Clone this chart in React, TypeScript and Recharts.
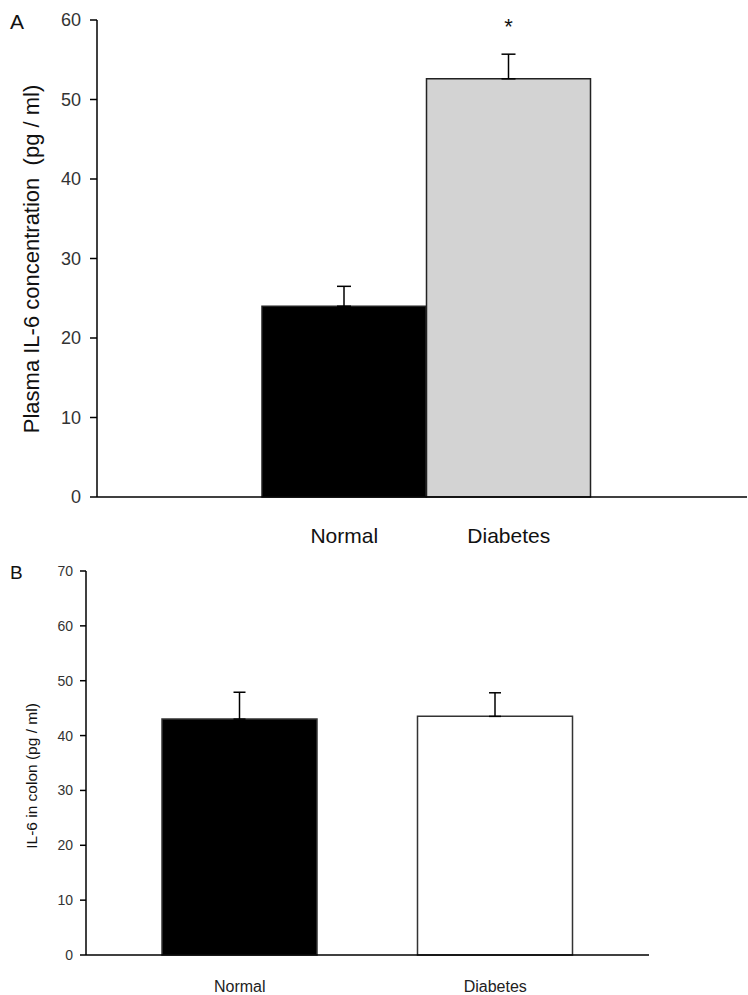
import { BarChart, Bar, XAxis, YAxis, Cell, ErrorBar, LabelList } from 'recharts';

// Panel A: plasma IL-6
const groups = ['Normal', 'Diabetes'];
const plasmaMean = [24, 52.6];
const plasmaSem = [2.5, 3.1];
const plasmaMark = ['', '*'];
const plasmaTicks = [0, 10, 20, 30, 40, 50, 60];

// Panel B: IL-6 in colon
const colonMean = [43, 43.5];
const colonSem = [4.9, 4.3];
const colonTicks = [0, 10, 20, 30, 40, 50, 60, 70];

const plasmaData = groups.map((name, i) => ({
  name,
  value: plasmaMean[i],
  err: [0, plasmaSem[i]],
  mark: plasmaMark[i],
}));

const colonData = groups.map((name, i) => ({
  name,
  value: colonMean[i],
  err: [0, colonSem[i]],
}));

const font = '"Liberation Sans", Arial, sans-serif';

export default function App() {
  return (
    <div style={{ position: 'absolute', left: 0, top: 0, width: 748, height: 995, background: '#fff', fontFamily: font }}>
      <div style={{ position: 'absolute', left: 0, top: 0 }}>
        <BarChart width={748} height={560} data={plasmaData} margin={{ top: 20, right: 1, bottom: 23, left: 37 }}>
          <XAxis
            dataKey="name"
            padding={{ left: 165, right: 156 }}
            tickLine={false}
            tickSize={0}
            tickMargin={31}
            height={40}
            axisLine={{ stroke: '#000', strokeWidth: 1.5 }}
            tick={{ fontSize: 21, fill: '#111', fontFamily: font }}
          />
          <YAxis
            domain={[0, 60]}
            ticks={plasmaTicks}
            width={60}
            tickSize={7}
            tickMargin={9}
            axisLine={{ stroke: '#000', strokeWidth: 1.5 }}
            tickLine={{ stroke: '#000', strokeWidth: 1.5 }}
            tick={{ fontSize: 18, fill: '#333', fontFamily: font }}
            label={() => (
              <text
                x={39}
                y={259}
                transform="rotate(-90 39 259)"
                textAnchor="middle"
                fontSize={22}
                fill="#111"
                fontFamily={font}
                style={{ whiteSpace: 'pre' }}
              >
                {'Plasma IL-6 concentration  (pg / ml)'}
              </text>
            )}
          />
          <Bar dataKey="value" barSize={164} isAnimationActive={false}>
            {plasmaData.map((d, i) => (
              <Cell key={d.name} fill={i === 0 ? '#000' : '#d3d3d3'} stroke="#222" strokeWidth={1.5} />
            ))}
            <ErrorBar dataKey="err" width={7} stroke="#000" strokeWidth={1.5} direction="y" isAnimationActive={false} />
            <LabelList dataKey="mark" position="top" offset={45} fontSize={22} fill="#111" fontFamily={font} />
          </Bar>
        </BarChart>
      </div>
      <div style={{ position: 'absolute', left: 0, top: 555 }}>
        <BarChart width={748} height={440} data={colonData} margin={{ top: 16, right: 99, bottom: 4, left: 26 }}>
          <XAxis
            dataKey="name"
            padding={{ left: 26, right: 26 }}
            tickLine={false}
            tickSize={0}
            tickMargin={26}
            height={36}
            axisLine={{ stroke: '#000', strokeWidth: 1.5 }}
            tick={{ fontSize: 16, fill: '#222', fontFamily: font }}
          />
          <YAxis
            domain={[0, 70]}
            ticks={colonTicks}
            width={60}
            tickSize={6}
            tickMargin={7}
            axisLine={{ stroke: '#000', strokeWidth: 1.5 }}
            tickLine={{ stroke: '#000', strokeWidth: 1.5 }}
            tick={{ fontSize: 14, fill: '#333', fontFamily: font }}
            label={() => (
              <text x={37} y={221} transform="rotate(-90 37 221)" textAnchor="middle" fontSize={15.5} fill="#111" fontFamily={font}>
                IL-6 in colon (pg / ml)
              </text>
            )}
          />
          <Bar dataKey="value" barSize={155} isAnimationActive={false}>
            {colonData.map((d, i) => (
              <Cell key={d.name} fill={i === 0 ? '#000' : '#fff'} stroke="#333" strokeWidth={1.5} />
            ))}
            <ErrorBar dataKey="err" width={6} stroke="#000" strokeWidth={1.5} direction="y" isAnimationActive={false} />
          </Bar>
        </BarChart>
      </div>
      <div style={{ position: 'absolute', left: 10, top: 10, fontSize: 21, color: '#111' }}>A</div>
      <div style={{ position: 'absolute', left: 10, top: 562, fontSize: 19, color: '#111' }}>B</div>
    </div>
  );
}
